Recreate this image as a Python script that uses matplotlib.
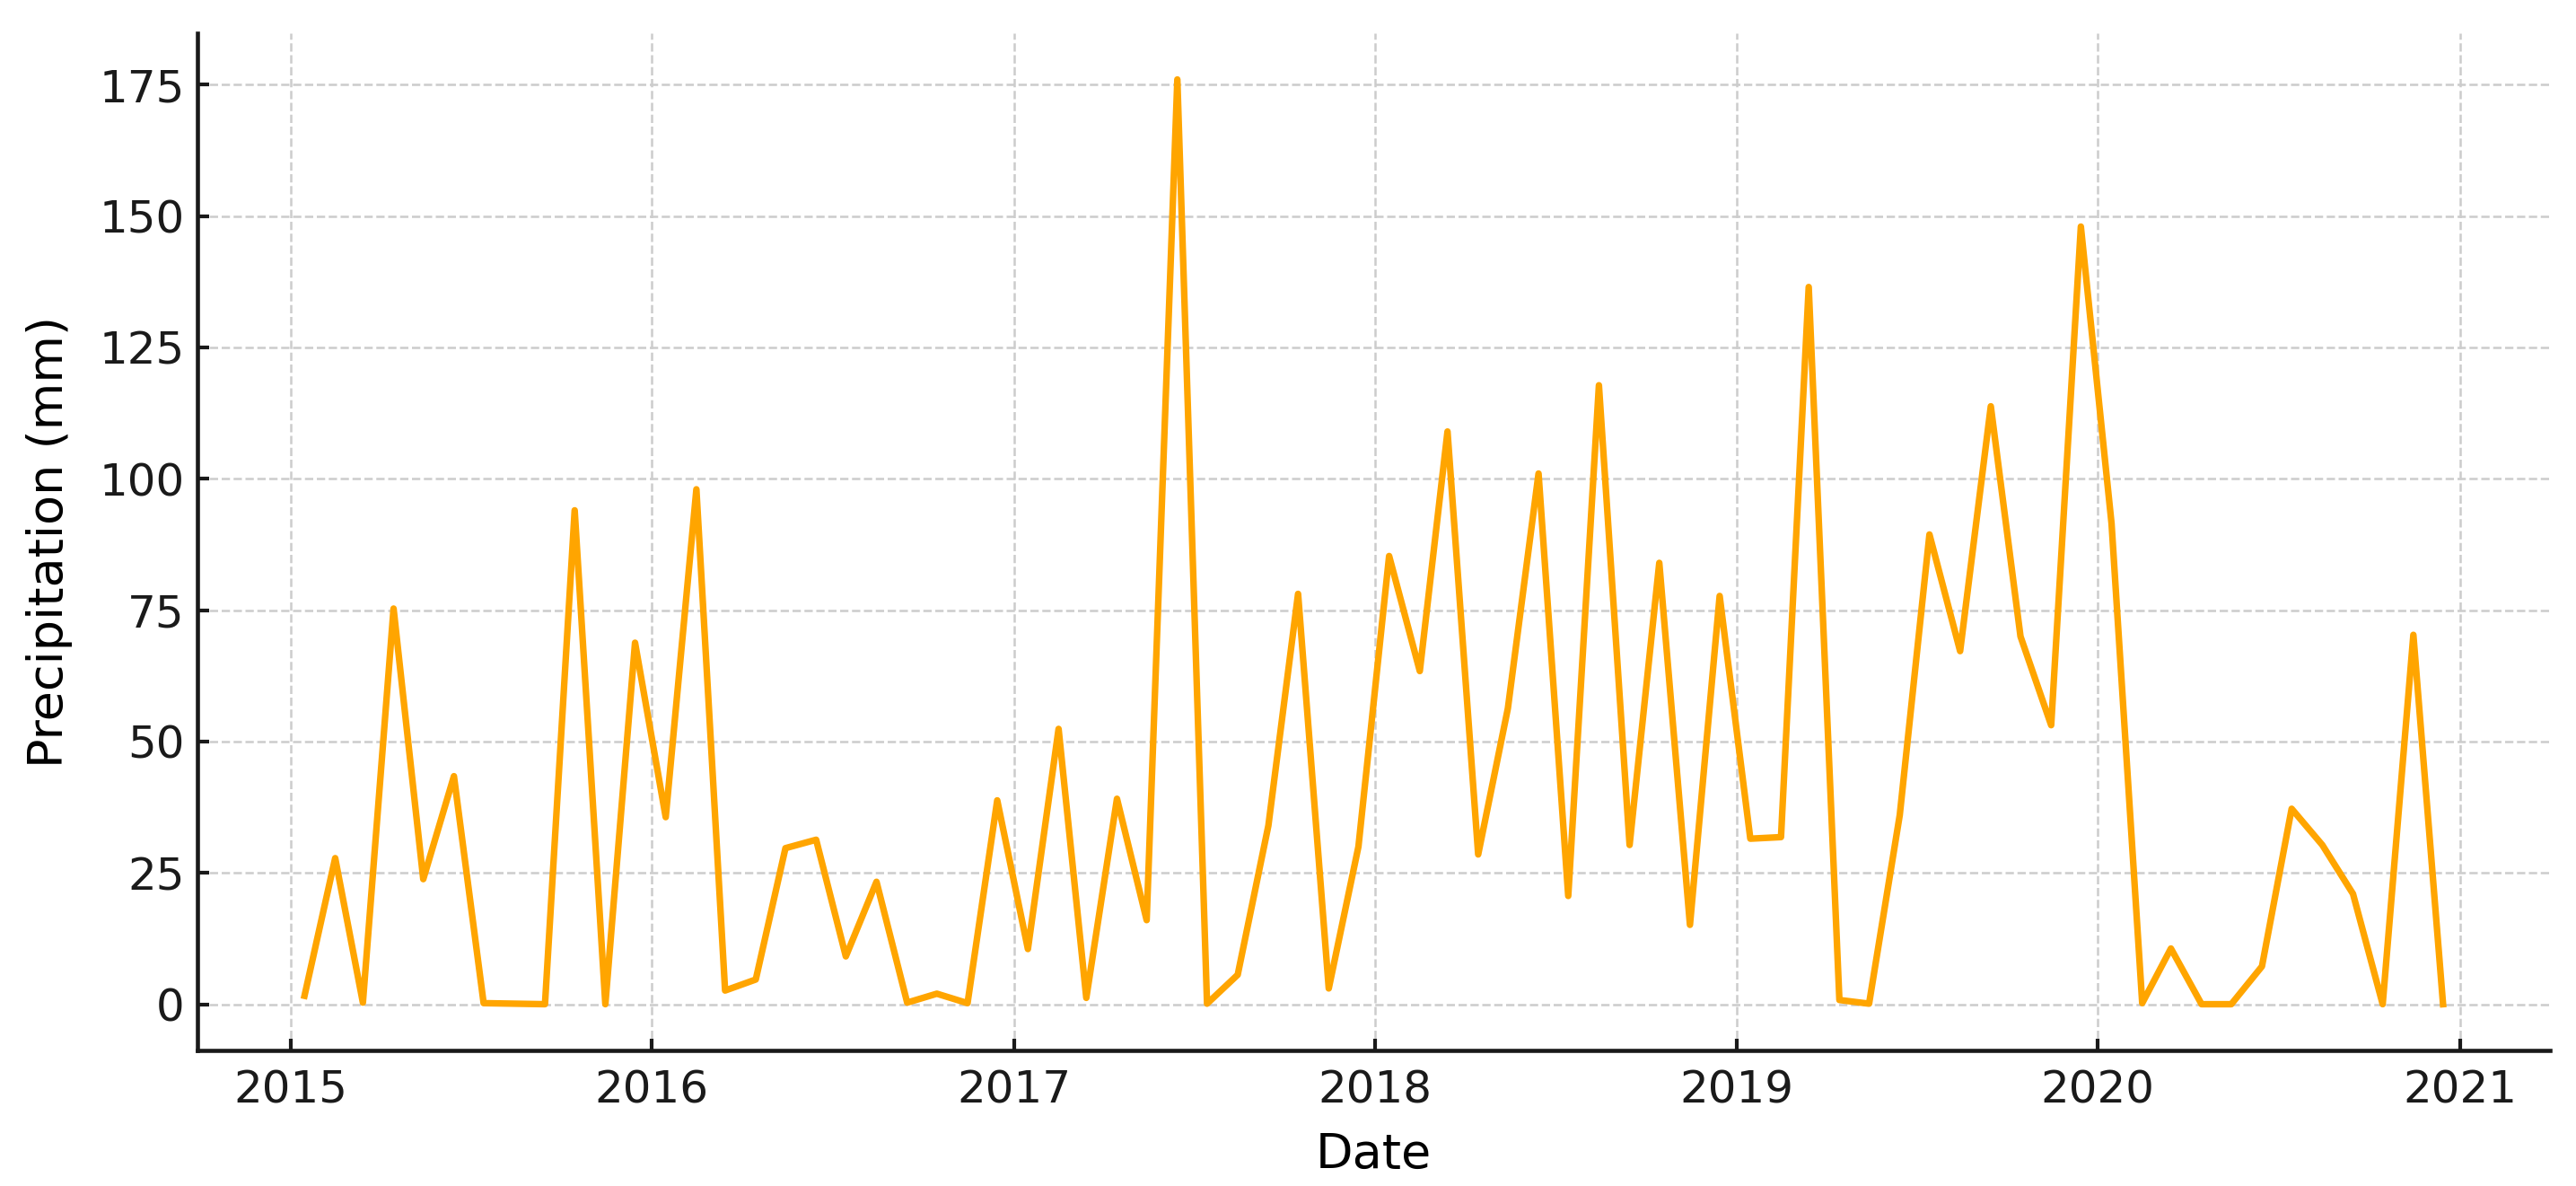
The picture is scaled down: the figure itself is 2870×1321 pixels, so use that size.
import matplotlib
matplotlib.use("Agg")
import matplotlib.pyplot as plt
import matplotlib.dates as mdates
import pandas as pd
import numpy as np

dates = pd.date_range("2015-01-01", periods=72, freq="MS") + pd.Timedelta(days=14)
precip = [
    1.6, 27.8, 0.3, 75.3, 23.8, 43.4, 0.2, 0.1, 0.0, 94.0, 0.0, 68.8,
    35.6, 98.0, 2.6, 4.7, 29.7, 31.3, 9.1, 23.3, 0.3, 2.0, 0.2, 38.8,
    10.5, 52.4, 1.2, 39.1, 16.0, 176.0, 0.1, 5.6, 34.0, 78.1, 3.0, 30.0,
    85.3, 63.4, 109.0, 28.5, 56.3, 101.0, 20.6, 117.8, 30.3, 84.0, 15.1, 77.7,
    31.5, 31.8, 136.5, 0.8, 0.1, 36.0, 89.4, 67.2, 113.8, 70.0, 53.1, 148.0,
    91.5, 0.2, 10.6, 0.0, 0.0, 7.2, 37.2, 30.3, 21.0, 0.0, 70.3, 0.0,
]

fig = plt.figure(figsize=(2870 / 300, 1321 / 300), dpi=300)
ax = fig.add_axes([0.0767, 0.1143, 0.9899 - 0.0767, 0.972 - 0.1143])
ax.plot(dates, precip, color="orange", linewidth=1.75)

ax.set_xlabel("Date", fontsize=13, labelpad=5)
ax.set_ylabel("Precipitation (mm)", fontsize=13, labelpad=7)
ax.xaxis.set_major_locator(mdates.YearLocator())
ax.xaxis.set_major_formatter(mdates.DateFormatter("%Y"))
ax.set_yticks([0, 25, 50, 75, 100, 125, 150, 175])
ax.grid(True, linestyle="--", color="#cccccc", linewidth=0.6)
ax.tick_params(direction="in", labelsize=12, length=3.2, width=1.0, colors="#1a1a1a")
ax.tick_params(axis="x", pad=5)
for s in ["top", "right"]:
    ax.spines[s].set_visible(False)
for s in ["left", "bottom"]:
    ax.spines[s].set_linewidth(1.1)
    ax.spines[s].set_color("#1a1a1a")
fig.savefig("out.png", dpi=300)
